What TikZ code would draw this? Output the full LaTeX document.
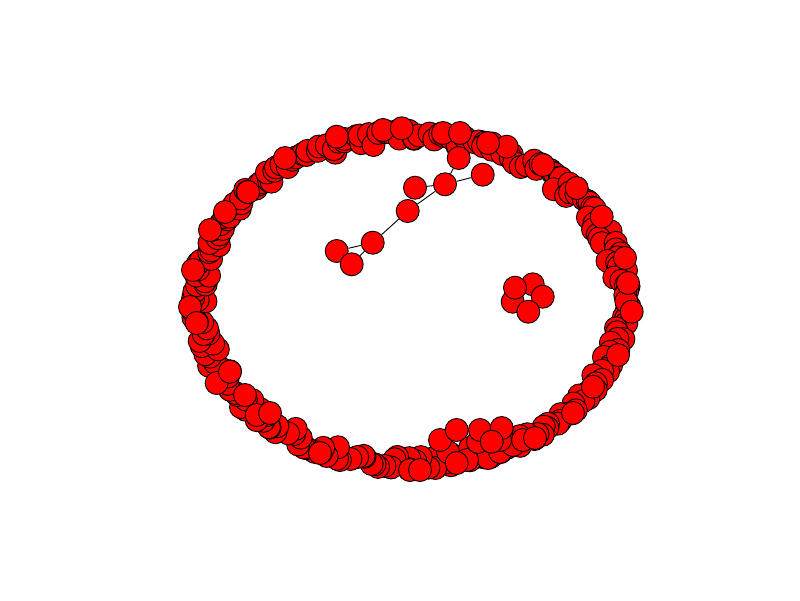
\documentclass[tikz,border=0pt]{standalone}
\begin{document}
\begin{tikzpicture}[x=1pt,y=-1pt,
  nd/.style={circle,draw=black,fill=red,line width=0.9pt,minimum size=23pt,inner sep=0pt},
  ed/.style={draw=black,line width=0.9pt}]
\useasboundingbox (0,0) rectangle (800,600);
% ring band
\pgfmathsetseed{11}
\foreach \i in {1,...,260}{
  \pgfmathsetmacro\ang{\i*1.3846154 + 1.0*rand}
  \pgfmathsetmacro\q{abs(rand)}
  \pgfmathsetmacro\rr{0.995 - 0.075*\q*\q}
  \node[nd] (r\i) at ({410.5+220*\rr*cos(\ang)},{300+170*\rr*sin(\ang)}) {};
}
% bottom cluster, lower layer
\foreach \x/\y [count=\k] in {470/448,488/458,500/452,467/460,478/442,513/445,523/440,448/452,500/440}{
  \node[nd] (q\k) at (\x,\y) {};
}
% prominent ring nodes
\foreach \x/\y [count=\k] in {383/130,401.7/128.3,443/133,336.7/136.7,285/158,248/192,225/212,210/230,193/270,190/307,196.7/323,216.7/383,230/371.7,245/395,256.7/415,270/413,320/453,410/470,420/470,456.7/463,440/440,456.7/430,480/430,501.7/428,491.7/441.7,535/438,573/413,593/386.7,618/355,631.7/311.7,628/283,625/258,601.7/216.7,576.7/188,543/165,506.7/146.7,488/143,460/133}{
  \node[nd] (p\k) at (\x,\y) {};
}
% chain component
\node[nd] (a) at (336.7,251) {};
\node[nd] (b) at (351.7,264.3) {};
\node[nd] (c) at (372.7,242.7) {};
\node[nd] (d) at (407.7,211) {};
\node[nd] (e) at (415,187.7) {};
\node[nd] (f) at (445,184.3) {};
\node[nd] (g) at (458.7,158) {};
\node[nd] (h) at (482.7,174.7) {};
\draw[ed] (a) -- (c);
\draw[ed] (b) -- (c);
\draw[ed] (c) -- (d);
\draw[ed] (d) -- (f);
\draw[ed] (e) -- (f);
\draw[ed] (f) -- (g);
\draw[ed] (f) -- (h);
% five-node cluster
\node[nd] (k1) at (532.7,284.3) {};
\node[nd] (k2) at (542.7,296.7) {};
\node[nd] (k3) at (512.7,301.7) {};
\node[nd] (k4) at (515,287.7) {};
\node[nd] (k5) at (528.3,311.7) {};
\end{tikzpicture}
\end{document}
